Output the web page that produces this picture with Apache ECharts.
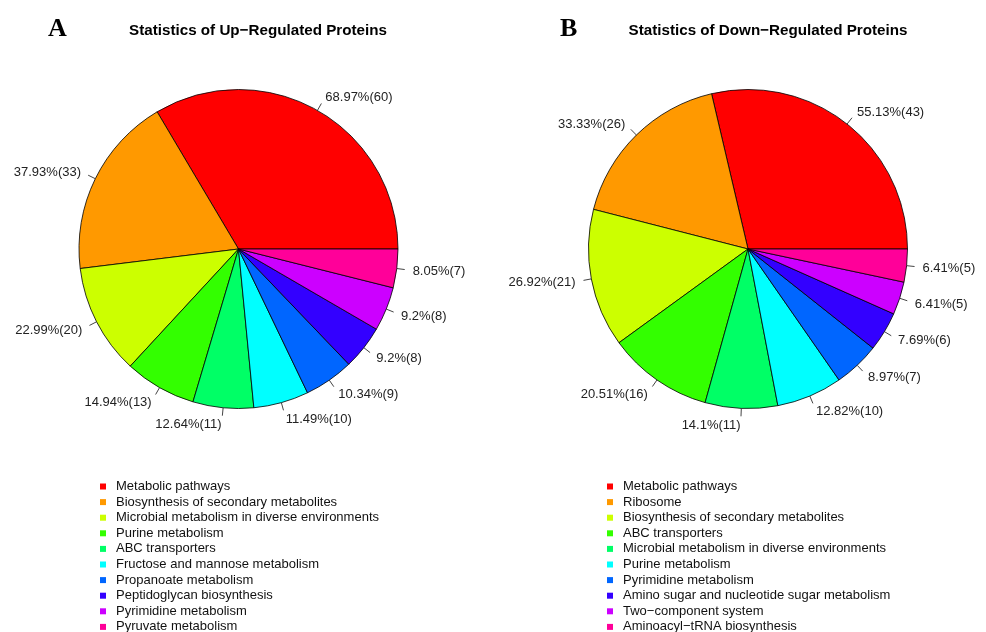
<!DOCTYPE html>
<html><head><meta charset="utf-8">
<script src="https://cdn.jsdelivr.net/npm/echarts@6/dist/echarts.min.js"></script>
<style>html,body{margin:0;padding:0;background:#fff}#c{width:986px;height:632px}</style>
</head><body><div id="c"></div>
<script>
const colors = ['#FF0000','#FF9900','#CCFF00','#33FF00','#00FF66','#00FFFF','#0066FF','#3300FF','#CC00FF','#FF0099'];
const upCategories = ['Metabolic pathways','Biosynthesis of secondary metabolites','Microbial metabolism in diverse environments','Purine metabolism','ABC transporters','Fructose and mannose metabolism','Propanoate metabolism','Peptidoglycan biosynthesis','Pyrimidine metabolism','Pyruvate metabolism'];
const upValues = [60,33,20,13,11,10,9,8,8,7];
const upTotal = 87;
const downCategories = ['Metabolic pathways','Ribosome','Biosynthesis of secondary metabolites','ABC transporters','Microbial metabolism in diverse environments','Purine metabolism','Pyrimidine metabolism','Amino sugar and nucleotide sugar metabolism','Two\u2212component system','Aminoacyl\u2212tRNA biosynthesis'];
const downValues = [43,26,21,16,11,10,7,6,5,5];
const downTotal = 78;

const R = 159.5;
const FONT = 'Liberation Sans, Arial, sans-serif';

function pct(v, t){ return parseFloat((v / t * 100).toFixed(2)) + '%(' + v + ')'; }
function mkData(cats, vals, tot){
  return cats.map((c,i)=>({name:c, value:vals[i], itemStyle:{color:colors[i]}, label:{formatter: pct(vals[i], tot)}}));
}
// R-style label placement: tick from r to 1.05r, text at 1.1r along the mid-angle
function rLabelLayout(p){
  const pts = p.labelLinePoints;
  if (!pts || pts.length < 2) return {};
  const p0 = pts[0], p1 = pts[1];
  let dx = p1[0]-p0[0], dy = p1[1]-p0[1];
  const len = Math.sqrt(dx*dx+dy*dy) || 1;
  dx /= len; dy /= len;
  const e = [p0[0]+dx*0.05*R, p0[1]+dy*0.05*R];
  return {
    x: p0[0]+dx*0.1*R, y: p0[1]+dy*0.1*R + 1,
    align: dx >= 0 ? 'left' : 'right', verticalAlign: 'middle',
    labelLinePoints: [[p0[0],p0[1]], e, [e[0],e[1]]]
  };
}
function mkSeries(cats, vals, tot, cx){
  return {
    type:'pie', center:[cx,249], radius:R, startAngle:0, clockwise:false,
    avoidLabelOverlap:false, animation:false, silent:true,
    itemStyle:{borderColor:'#000', borderWidth:0.8},
    label:{show:true, position:'outside', fontFamily:FONT, fontSize:13, color:'#222', distanceToLabelLine:0},
    labelLine:{show:true, length:8, length2:0, lineStyle:{color:'#444', width:1}},
    labelLayout: rLabelLayout,
    emphasis:{disabled:true},
    data: mkData(cats, vals, tot)
  };
}
function mkLegend(cats, left){
  return {
    orient:'vertical', left:left, top:480, height:170, padding:0,
    itemWidth:6, itemHeight:6, itemGap:2.6, icon:'rect', selectedMode:false,
    textStyle:{fontFamily:FONT, fontSize:13, lineHeight:12, color:'#111', padding:[0,0,0,5]},
    itemStyle:{borderWidth:0},
    data: cats.map((c,i)=>({name:c, icon:'rect', itemStyle:{color:colors[i], borderWidth:0}}))
  };
}
const chart = echarts.init(document.getElementById('c'), null, {renderer:'canvas'});
chart.setOption({
  backgroundColor:'#fff',
  title:[
    {text:'A', left:43, top:11, textStyle:{fontFamily:'Liberation Serif, Times New Roman, serif', fontSize:26, fontWeight:'bold', color:'#000'}},
    {text:'Statistics of Up\u2212Regulated Proteins', left:253, top:18, textAlign:'center', textStyle:{fontFamily:FONT, fontSize:15.2, fontWeight:'bold', color:'#000'}},
    {text:'B', left:555, top:11, textStyle:{fontFamily:'Liberation Serif, Times New Roman, serif', fontSize:26, fontWeight:'bold', color:'#000'}},
    {text:'Statistics of Down\u2212Regulated Proteins', left:763, top:18, textAlign:'center', textStyle:{fontFamily:FONT, fontSize:15.2, fontWeight:'bold', color:'#000'}}
  ],
  legend:[mkLegend(upCategories, 100), mkLegend(downCategories, 607)],
  series:[mkSeries(upCategories, upValues, upTotal, 238.5), mkSeries(downCategories, downValues, downTotal, 748)]
});
</script></body></html>
